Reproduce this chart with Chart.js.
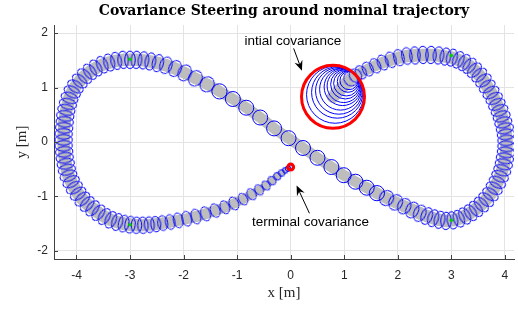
<!DOCTYPE html>
<html>
<head>
<meta charset="utf-8">
<script src="https://cdn.jsdelivr.net/npm/chart.js@4.4.1/dist/chart.umd.min.js"></script>
<style>
  html, body { margin: 0; padding: 0; background: #fff; }
</style>
</head>
<body>
<canvas id="chart" width="518" height="312"></canvas>
<script>
// covariance centres along the steered trajectory [m]
// (start blob, top of right lobe, right lobe, back through the centre, left lobe, run-in to terminal)
const trajX = [
  0.79, 0.83, 0.87, 0.90, 0.93, 0.97, 0.99, 1.02, 1.04, 1.07, 1.09,
  1.12, 1.21, 1.31, 1.44, 1.58, 1.72, 1.87, 2.02, 2.17, 2.32, 2.47, 2.62, 2.76, 2.89, 3.01, 3.13,
  3.24, 3.34, 3.43, 3.52, 3.60, 3.67, 3.74, 3.80, 3.85, 3.90, 3.94, 3.97, 4.00, 4.02, 4.03, 4.03,
  4.02, 4.00, 3.98, 3.95, 3.91, 3.86, 3.80, 3.73, 3.65, 3.56, 3.46, 3.36, 3.25, 3.14, 3.02, 2.90,
  2.78, 2.66,
  2.54, 2.41, 2.27, 2.12, 1.96, 1.79, 1.61, 1.42, 1.21, 0.99, 0.76, 0.50, 0.23, -0.04, -0.31,
  -0.57, -0.83, -1.08, -1.33, -1.56, -1.78, -1.98, -2.16, -2.33, -2.48, -2.62, -2.75, -2.88,
  -3.00, -3.13, -3.26, -3.39, -3.52, -3.64, -3.75, -3.85, -3.94, -4.02, -4.08, -4.13, -4.16,
  -4.19, -4.21, -4.22, -4.23, -4.24, -4.24, -4.24, -4.23, -4.22, -4.20, -4.18, -4.15, -4.10,
  -4.04, -3.97, -3.89, -3.80, -3.70, -3.59, -3.48, -3.36, -3.24, -3.12, -3.00, -2.88, -2.76,
  -2.64, -2.52, -2.39, -2.25, -2.10, -1.94, -1.77, -1.59, -1.41, -1.23, -1.06, -0.89, -0.73,
  -0.59, -0.46, -0.35, -0.25, -0.17, -0.10, -0.05, 0.00
];
const trajY = [
  0.83, 0.87, 0.91, 0.94, 0.97, 1.01, 1.03, 1.06, 1.08, 1.11, 1.13,
  1.16, 1.22, 1.28, 1.34, 1.40, 1.46, 1.51, 1.55, 1.58, 1.59, 1.60, 1.60, 1.59, 1.57, 1.55, 1.51,
  1.46, 1.40, 1.32, 1.23, 1.13, 1.02, 0.91, 0.80, 0.69, 0.58, 0.47, 0.36, 0.25, 0.14, 0.03, -0.08,
  -0.19, -0.30, -0.41, -0.52, -0.63, -0.74, -0.85, -0.96, -1.06, -1.15, -1.23, -1.30, -1.36, -1.41, -1.44, -1.45,
  -1.43, -1.40,
  -1.36, -1.31, -1.25, -1.18, -1.11, -1.03, -0.94, -0.84, -0.73, -0.61, -0.46, -0.29, -0.11, 0.07, 0.25,
  0.45, 0.63, 0.79, 0.93, 1.06, 1.17, 1.27, 1.35, 1.41, 1.45, 1.48, 1.50, 1.51,
  1.51, 1.51, 1.49, 1.46, 1.42, 1.36, 1.29, 1.21, 1.12, 1.02, 0.92, 0.81, 0.70,
  0.59, 0.48, 0.37, 0.26, 0.15, 0.04, -0.07, -0.18, -0.29, -0.40, -0.51, -0.62, -0.73,
  -0.84, -0.95, -1.05, -1.14, -1.22, -1.30, -1.37, -1.43, -1.47, -1.50, -1.52, -1.53, -1.53,
  -1.52, -1.51, -1.49, -1.47, -1.44, -1.41, -1.37, -1.32, -1.26, -1.20, -1.13, -1.05, -0.96,
  -0.88, -0.80, -0.71, -0.63, -0.57, -0.52, -0.49, -0.46
];
// 1-sigma half-axes of each covariance ellipse [m]: across and along the path
const sigmaCross = [
  0.588, 0.534, 0.480, 0.436, 0.390, 0.346, 0.310, 0.274, 0.238, 0.200, 0.170,
  0.140, 0.130, 0.130, 0.135, 0.140, 0.145, 0.150, 0.155, 0.160, 0.165, 0.165, 0.165, 0.165, 0.165, 0.165, 0.165,
  0.165, 0.165, 0.165, 0.165, 0.165, 0.165, 0.165, 0.165, 0.165, 0.165, 0.165, 0.165, 0.165, 0.165, 0.165, 0.165,
  0.165, 0.165, 0.165, 0.165, 0.165, 0.165, 0.165, 0.165, 0.165, 0.165, 0.165, 0.165, 0.165, 0.165, 0.165, 0.165,
  0.165, 0.165,
  0.165, 0.160, 0.155, 0.150, 0.148, 0.145, 0.142, 0.140, 0.140, 0.140, 0.140, 0.140, 0.140, 0.140, 0.140,
  0.140, 0.140, 0.140, 0.142, 0.145, 0.150, 0.152, 0.155, 0.160, 0.165, 0.165, 0.165, 0.165,
  0.165, 0.165, 0.165, 0.165, 0.165, 0.165, 0.165, 0.165, 0.165, 0.165, 0.165, 0.165, 0.165,
  0.165, 0.165, 0.165, 0.165, 0.165, 0.165, 0.165, 0.165, 0.165, 0.165, 0.165, 0.165, 0.165,
  0.165, 0.165, 0.165, 0.165, 0.165, 0.165, 0.165, 0.165, 0.162, 0.160, 0.158, 0.155, 0.152,
  0.150, 0.145, 0.142, 0.140, 0.140, 0.140, 0.138, 0.135, 0.132, 0.128, 0.124, 0.118, 0.110,
  0.102, 0.094, 0.085, 0.075, 0.066, 0.058, 0.050, 0.040
];
const sigmaAlong = [
  0.588, 0.534, 0.480, 0.436, 0.390, 0.346, 0.310, 0.274, 0.238, 0.200, 0.170,
  0.120, 0.110, 0.100, 0.100, 0.100, 0.100, 0.100, 0.100, 0.100, 0.100, 0.100, 0.100, 0.100, 0.100, 0.100, 0.100,
  0.100, 0.100, 0.100, 0.100, 0.100, 0.100, 0.100, 0.100, 0.100, 0.100, 0.100, 0.100, 0.100, 0.100, 0.100, 0.100,
  0.100, 0.100, 0.100, 0.100, 0.100, 0.100, 0.100, 0.100, 0.100, 0.100, 0.100, 0.100, 0.100, 0.100, 0.100, 0.100,
  0.100, 0.100,
  0.105, 0.110, 0.115, 0.120, 0.125, 0.130, 0.135, 0.140, 0.140, 0.140, 0.140, 0.140, 0.140, 0.140, 0.140,
  0.140, 0.140, 0.140, 0.135, 0.130, 0.125, 0.120, 0.115, 0.110, 0.105, 0.100, 0.100, 0.100,
  0.100, 0.100, 0.100, 0.100, 0.100, 0.100, 0.100, 0.100, 0.100, 0.100, 0.100, 0.100, 0.100,
  0.100, 0.100, 0.100, 0.100, 0.100, 0.100, 0.100, 0.100, 0.100, 0.100, 0.100, 0.100, 0.100,
  0.100, 0.100, 0.100, 0.100, 0.100, 0.100, 0.100, 0.100, 0.100, 0.100, 0.098, 0.097, 0.096,
  0.095, 0.093, 0.092, 0.090, 0.090, 0.090, 0.090, 0.090, 0.088, 0.086, 0.084, 0.080, 0.078,
  0.074, 0.070, 0.065, 0.060, 0.055, 0.050, 0.045, 0.040
];

// initial / terminal covariance (red)
const boundaryX = [0.79, 0.00];
const boundaryY = [0.83, -0.46];
const boundarySigma = [0.588, 0.055];

// waypoints (green)
const waypointX = [-3.00, -3.00, 3.00, 3.00];
const waypointY = [1.52, -1.52, 1.59, -1.44];

// axes
const xTicks = [-4, -3, -2, -1, 0, 1, 2, 3, 4];
const yTicks = [-2, -1, 0, 1, 2];
const xRange = [-4.42, 4.17];
const yRange = [-2.15, 2.15];

// annotations
const noteText = ['intial covariance', 'terminal covariance'];
const noteX = [0.04, 0.37];
const noteY = [1.855, -1.47];
const arrowFromX = [0.055, 0.35];
const arrowFromY = [1.72, -1.31];
const arrowToX = [0.21, 0.11];
const arrowToY = [1.31, -0.80];

const BLUE = '#0000ff';

function sigmaPx(chart, s) {
    const xs = chart.scales.x;
    return Math.abs(xs.getPixelForValue(s) - xs.getPixelForValue(0));
}

// heading of the path at point i, in screen degrees
function headingDeg(chart, i) {
    const xs = chart.scales.x, ys = chart.scales.y;
    const a = Math.max(0, i - 1), b = Math.min(trajX.length - 1, i + 1);
    const dx = xs.getPixelForValue(trajX[b]) - xs.getPixelForValue(trajX[a]);
    const dy = ys.getPixelForValue(trajY[b]) - ys.getPixelForValue(trajY[a]);
    return Math.atan2(dy, dx) * 180 / Math.PI;
}

// ellipse outlines used as point styles, cached by size (round ones use the plain circle)
const ellipseCache = {};
function ellipseStyle(rx, ry) {
    if (Math.abs(rx - ry) < 0.4) return 'circle';
    rx = Math.round(rx * 4) / 4;
    ry = Math.round(ry * 4) / 4;
    const key = rx + '_' + ry;
    if (ellipseCache[key]) return ellipseCache[key];
    const cv = document.createElement('canvas');
    const size = Math.ceil(2 * Math.max(rx, ry) + 4);
    cv.width = size;
    cv.height = size;
    const g = cv.getContext('2d');
    g.strokeStyle = BLUE;
    g.lineWidth = 1;
    g.beginPath();
    g.ellipse(size / 2, size / 2, rx, ry, 0, 0, Math.PI * 2);
    g.stroke();
    ellipseCache[key] = cv;
    return cv;
}

const points = trajX.map((x, i) => ({ x: x, y: trajY[i] }));

const extrasPlugin = {
    id: 'extras',
    afterDraw(chart) {
        const c = chart.ctx, a = chart.chartArea;
        const xs = chart.scales.x, ys = chart.scales.y;
        c.save();
        // inward tick marks
        c.strokeStyle = '#404040';
        c.lineWidth = 1;
        c.beginPath();
        xTicks.forEach(v => {
            const px = Math.round(xs.getPixelForValue(v)) + 0.5;
            c.moveTo(px, a.bottom); c.lineTo(px, a.bottom - 4);
        });
        yTicks.forEach(v => {
            const py = Math.round(ys.getPixelForValue(v)) + 0.5;
            c.moveTo(a.left, py); c.lineTo(a.left + 4, py);
        });
        c.stroke();

        // arrows
        c.fillStyle = '#000';
        c.strokeStyle = '#000';
        for (let i = 0; i < arrowFromX.length; i++) {
            const x0 = xs.getPixelForValue(arrowFromX[i]), y0 = ys.getPixelForValue(arrowFromY[i]);
            const x1 = xs.getPixelForValue(arrowToX[i]), y1 = ys.getPixelForValue(arrowToY[i]);
            const ang = Math.atan2(y1 - y0, x1 - x0);
            const cs = Math.cos(ang), sn = Math.sin(ang);
            const len = 10, half = 4.2;
            c.beginPath();
            c.moveTo(x0, y0);
            c.lineTo(x1 - cs * 6, y1 - sn * 6);
            c.stroke();
            c.beginPath();
            c.moveTo(x1, y1);
            c.lineTo(x1 - cs * len - sn * half, y1 - sn * len + cs * half);
            c.lineTo(x1 - cs * 6.5, y1 - sn * 6.5);
            c.lineTo(x1 - cs * len + sn * half, y1 - sn * len - cs * half);
            c.closePath();
            c.fill();
        }

        // annotation text
        c.font = '13.5px "Liberation Sans", Arial, sans-serif';
        c.fillStyle = '#000';
        c.textAlign = 'center';
        c.textBaseline = 'middle';
        noteText.forEach((t, i) => {
            c.fillText(t, xs.getPixelForValue(noteX[i]), ys.getPixelForValue(noteY[i]));
        });

        // title
        c.font = 'bold 14px "DejaVu Serif", serif';
        c.fillText('Covariance Steering around nominal trajectory', (a.left + a.right) / 2, 11);
        c.restore();
    }
};

const ctx = document.getElementById('chart').getContext('2d');
const chart = new Chart(ctx, {
    type: 'scatter',
    data: {
        datasets: [
            {
                label: 'waypoints',
                data: waypointX.map((x, i) => ({ x: x, y: waypointY[i] })),
                pointRadius: 1.8,
                pointBorderWidth: 0,
                pointBackgroundColor: '#00d000',
                order: 0
            },
            {
                label: 'boundary covariance',
                data: boundaryX.map((x, i) => ({ x: x, y: boundaryY[i] })),
                pointRadius: c => sigmaPx(c.chart, boundarySigma[c.dataIndex]),
                pointBorderWidth: 3,
                pointBorderColor: '#ff0000',
                pointBackgroundColor: 'rgba(0,0,0,0)',
                order: 1
            },
            {
                label: 'covariance',
                data: points,
                pointRadius: c => sigmaPx(c.chart, sigmaCross[c.dataIndex]),
                pointStyle: c => ellipseStyle(sigmaPx(c.chart, sigmaAlong[c.dataIndex]), sigmaPx(c.chart, sigmaCross[c.dataIndex])),
                pointRotation: c => headingDeg(c.chart, c.dataIndex),
                pointBorderWidth: 1,
                pointBorderColor: BLUE,
                pointBackgroundColor: 'rgba(0,0,0,0)',
                order: 2
            },
            {
                label: 'nominal',
                data: points,
                showLine: true,
                pointRadius: 0,
                borderColor: '#bdbdbd',
                borderCapStyle: 'round',
                borderJoinStyle: 'round',
                borderWidth: 10,
                segment: {
                    borderWidth: c => {
                        const r = sigmaPx(c.chart, sigmaCross[c.p0DataIndex]);
                        return Math.max(1, Math.min(12.5, 1.45 * r));
                    }
                },
                order: 3
            }
        ]
    },
    options: {
        responsive: false,
        animation: false,
        devicePixelRatio: 1,
        layout: { padding: { top: 25, left: 0, right: 0, bottom: 0 } },
        plugins: {
            legend: { display: false },
            tooltip: { enabled: false },
            title: { display: false }
        },
        scales: {
            x: {
                type: 'linear',
                min: xRange[0],
                max: xRange[1],
                afterBuildTicks: s => { s.ticks = xTicks.map(v => ({ value: v })); },
                afterFit: s => { s.height = 53; },
                grid: { color: '#e3e3e3', drawTicks: false },
                border: { color: '#404040', width: 1 },
                ticks: { font: { family: '"Liberation Sans", Arial, sans-serif', size: 12 }, color: '#262626', padding: 9, maxRotation: 0 },
                title: {
                    display: true,
                    text: 'x [m]',
                    font: { family: '"Liberation Serif", "Times New Roman", serif', size: 15 },
                    color: '#262626',
                    padding: { top: 10, bottom: 10 }
                }
            },
            y: {
                type: 'linear',
                min: yRange[0],
                max: yRange[1],
                afterBuildTicks: s => { s.ticks = yTicks.map(v => ({ value: v })); },
                afterFit: s => { s.width = 54; },
                grid: { color: '#e3e3e3', drawTicks: false },
                border: { color: '#404040', width: 1 },
                ticks: { font: { family: '"Liberation Sans", Arial, sans-serif', size: 12 }, color: '#262626', padding: 6 },
                title: {
                    display: true,
                    text: 'y [m]',
                    font: { family: '"Liberation Serif", "Times New Roman", serif', size: 15 },
                    color: '#262626',
                    padding: { top: 13, bottom: 13 }
                }
            }
        }
    },
    plugins: [extrasPlugin]
});
</script>
</body>
</html>
